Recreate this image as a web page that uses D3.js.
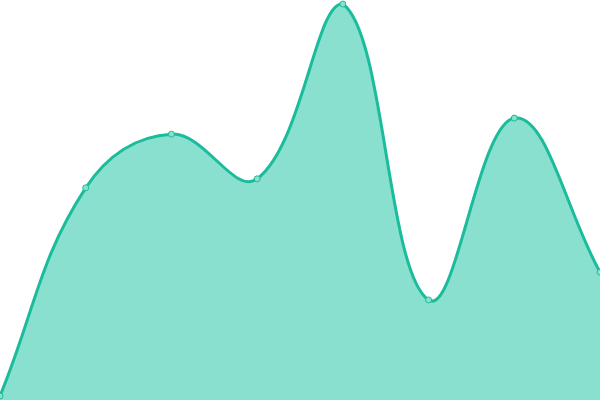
<!DOCTYPE html>
<html>
<head>
<meta charset="utf-8">
<script src="https://cdn.jsdelivr.net/npm/d3@7"></script>
<style>
  body { margin: 0; background: #fff; }
  svg { display: block; }
</style>
</head>
<body>
<svg id="chart" width="600" height="400"></svg>
<script>
// values
let labels = ["1", "2", "3", "4", "5", "6", "7", "8"];
let values = [0, 53.1, 66.8, 55.4, 100, 24.5, 70.9, 31.6];

let svg = d3.select("#chart");
let width = 600, height = 400;
let tension = 0.4;

let x = d3.scalePoint().domain(labels).range([0, width]);
let y = d3.scaleLinear().domain([0, 100]).range([396, 4]);

let pts = labels.map((l, i) => ({label: l, value: values[i], px: x(l), py: y(values[i])}));

// spline control points, distance weighted, kept inside the drawing area
function controls(p) {
    let out = [];
    for (let i = 0; i < p.length; i++) {
        let prev = p[i - 1] || p[i], cur = p[i], next = p[i + 1] || p[i];
        let d01 = Math.hypot(cur.px - prev.px, cur.py - prev.py);
        let d12 = Math.hypot(next.px - cur.px, next.py - cur.py);
        let s01 = d01 / (d01 + d12) || 0;
        let s12 = d12 / (d01 + d12) || 0;
        let fa = tension * s01, fb = tension * s12;
        let c = {
            inX: cur.px - fa * (next.px - prev.px),
            inY: cur.py - fa * (next.py - prev.py),
            outX: cur.px + fb * (next.px - prev.px),
            outY: cur.py + fb * (next.py - prev.py)
        };
        c.inX = Math.max(0, Math.min(width, c.inX));
        c.outX = Math.max(0, Math.min(width, c.outX));
        c.inY = Math.max(0, Math.min(height, c.inY));
        c.outY = Math.max(0, Math.min(height, c.outY));
        out.push(c);
    }
    return out;
}

function curvePath(p, ctx) {
    let cp = controls(p);
    ctx.moveTo(p[0].px, p[0].py);
    for (let i = 1; i < p.length; i++) {
        ctx.bezierCurveTo(cp[i - 1].outX, cp[i - 1].outY, cp[i].inX, cp[i].inY, p[i].px, p[i].py);
    }
    return ctx;
}

let linePath = curvePath(pts, d3.path());
let areaPath = curvePath(pts, d3.path());
areaPath.lineTo(x(labels[labels.length - 1]), height);
areaPath.lineTo(x(labels[0]), height);
areaPath.closePath();

svg.append("path")
    .attr("d", areaPath.toString())
    .attr("fill", "#8ae0cf");

svg.append("path")
    .attr("d", linePath.toString())
    .attr("fill", "none")
    .attr("stroke", "#1abc9c")
    .attr("stroke-width", 3);

svg.selectAll(".pt")
    .data(pts)
    .enter().append("circle").attr("class", "pt")
    .attr("cx", d => d.px)
    .attr("cy", d => d.py)
    .attr("r", 3)
    .attr("fill", "#8ae0cf")
    .attr("stroke", "#1abc9c")
    .attr("stroke-width", 1);
</script>
</body>
</html>
